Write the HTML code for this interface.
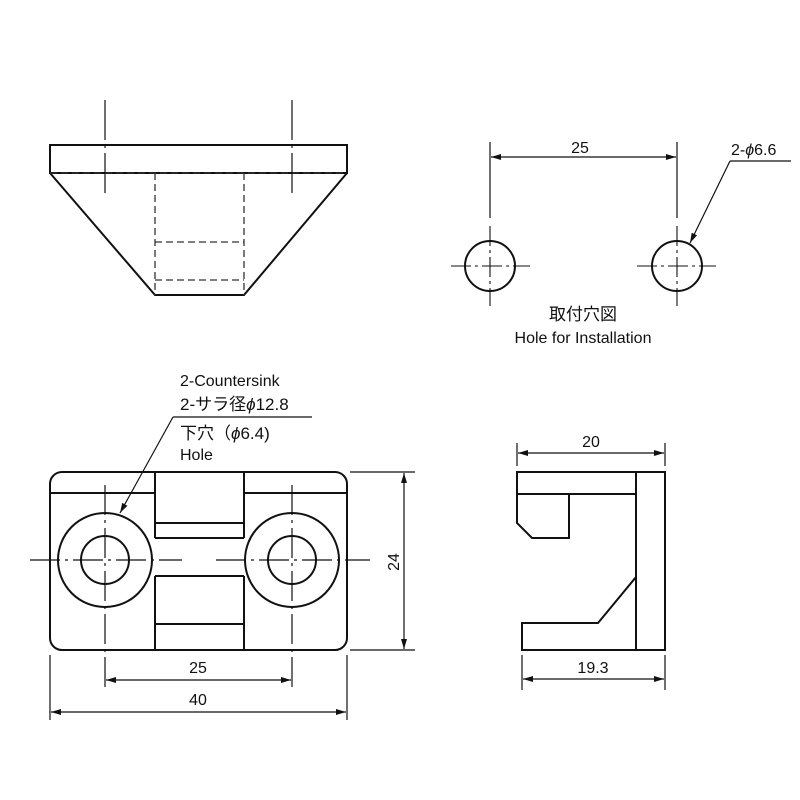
<!DOCTYPE html>
<html><head><meta charset="utf-8"><style>body{margin:0;background:#fff}svg{display:block}text{font-family:"Liberation Sans","Noto Sans CJK JP",sans-serif;fill:#111}</style></head>
<body>
<svg width="800" height="800" viewBox="0 0 800 800" xmlns="http://www.w3.org/2000/svg">
<defs><marker id="a" viewBox="0 0 10 6" refX="10" refY="3" markerWidth="10" markerHeight="6" orient="auto-start-reverse" markerUnits="userSpaceOnUse"><path d="M0,0L10,3L0,6z" fill="#111"/></marker></defs>
<g fill="none" stroke="#111" stroke-width="2">
<rect x="50" y="145" width="297" height="28"/>
<polyline points="50,173 155,295 244,295 347,173"/>
</g>
<g fill="none" stroke="#333" stroke-width="1.3" stroke-dasharray="7,4">
<line x1="50" y1="173" x2="347" y2="173"/>
<line x1="155" y1="173" x2="155" y2="295"/><line x1="244" y1="173" x2="244" y2="295"/>
<line x1="155" y1="242" x2="244" y2="242"/><line x1="155" y1="280" x2="244" y2="280"/>
</g>
<g fill="none" stroke="#111" stroke-width="1.2" stroke-dasharray="40,5,3,5">
<line x1="105" y1="100" x2="105" y2="198"/><line x1="292" y1="100" x2="292" y2="198"/>
</g>
<g fill="none" stroke="#111" stroke-width="2">
<rect x="50" y="472" width="297" height="178" rx="12"/>
<line x1="50" y1="493" x2="155" y2="493"/><line x1="244" y1="493" x2="347" y2="493"/>
<line x1="155" y1="472" x2="155" y2="538"/><line x1="244" y1="472" x2="244" y2="538"/>
<line x1="155" y1="576" x2="155" y2="650"/><line x1="244" y1="576" x2="244" y2="650"/>
<line x1="155" y1="523" x2="244" y2="523"/><line x1="155" y1="538" x2="244" y2="538"/>
<line x1="155" y1="576" x2="244" y2="576"/><line x1="155" y1="624" x2="244" y2="624"/>
<circle cx="105" cy="560" r="47"/><circle cx="105" cy="560" r="24"/>
<circle cx="292" cy="560" r="47"/><circle cx="292" cy="560" r="24"/>
</g>
<g fill="none" stroke="#111" stroke-width="1.2" stroke-dasharray="30,5,3,5">
<line x1="30" y1="560" x2="182" y2="560"/><line x1="216" y1="560" x2="370" y2="560"/>
<line x1="105" y1="485" x2="105" y2="690"/><line x1="292" y1="485" x2="292" y2="690"/>
</g>
<g fill="none" stroke="#111" stroke-width="1.2">
<line x1="50" y1="655" x2="50" y2="720"/><line x1="347" y1="655" x2="347" y2="720"/>
<line x1="106" y1="680" x2="291" y2="680" marker-start="url(#a)" marker-end="url(#a)"/>
<line x1="51" y1="712" x2="346" y2="712" marker-start="url(#a)" marker-end="url(#a)"/>
<line x1="350" y1="472" x2="415" y2="472"/><line x1="350" y1="650" x2="415" y2="650"/>
<line x1="404" y1="473" x2="404" y2="649" marker-start="url(#a)" marker-end="url(#a)"/>
<line x1="173" y1="417" x2="312" y2="417"/>
<line x1="173" y1="417" x2="120" y2="513" marker-end="url(#a)"/>
</g>
<text x="180" y="386" font-size="16">2-Countersink</text>
<text x="180" y="410" font-size="17">2-サラ径<tspan font-style="italic">ϕ</tspan>12.8</text>
<text x="180" y="439" font-size="17">下穴（<tspan font-style="italic">ϕ</tspan>6.4)</text>
<text x="180" y="460" font-size="16">Hole</text>
<text x="198" y="673" font-size="16" text-anchor="middle">25</text>
<text x="198" y="705" font-size="16" text-anchor="middle">40</text>
<text x="0" y="0" font-size="16" text-anchor="middle" transform="translate(399,562) rotate(-90)">24</text>
<g fill="none" stroke="#111" stroke-width="2">
<polyline points="636,472 517,472 517,523 532,538 569,538 569,494"/>
<line x1="517" y1="494" x2="636" y2="494"/>
<rect x="636" y="472" width="29" height="178"/>
<polyline points="636,577 598,623 522,623 522,650 636,650"/>
</g>
<g fill="none" stroke="#111" stroke-width="1.2">
<line x1="517" y1="443" x2="517" y2="466"/><line x1="665" y1="443" x2="665" y2="466"/>
<line x1="518" y1="453" x2="664" y2="453" marker-start="url(#a)" marker-end="url(#a)"/>
<line x1="522" y1="655" x2="522" y2="690"/><line x1="665" y1="655" x2="665" y2="690"/>
<line x1="523" y1="679" x2="664" y2="679" marker-start="url(#a)" marker-end="url(#a)"/>
</g>
<text x="591" y="447" font-size="16" text-anchor="middle">20</text>
<text x="593" y="673" font-size="16" text-anchor="middle">19.3</text>
<g fill="none" stroke="#111" stroke-width="2">
<circle cx="490" cy="266" r="25"/><circle cx="677" cy="266" r="25"/>
</g>
<g fill="none" stroke="#111" stroke-width="1.2">
<line x1="490" y1="142" x2="490" y2="218"/><line x1="677" y1="142" x2="677" y2="218"/>
<line x1="491" y1="157" x2="676" y2="157" marker-start="url(#a)" marker-end="url(#a)"/>
<line x1="730" y1="161" x2="791" y2="161"/>
<line x1="730" y1="161" x2="690" y2="243" marker-end="url(#a)"/>
</g>
<g fill="none" stroke="#111" stroke-width="1.1" stroke-dasharray="20,4,3,4">
<line x1="490" y1="226" x2="490" y2="306"/><line x1="451" y1="266" x2="530" y2="266"/>
<line x1="677" y1="226" x2="677" y2="306"/><line x1="637" y1="266" x2="716" y2="266"/>
</g>
<text x="580" y="153" font-size="16" text-anchor="middle">25</text>
<text x="731" y="155" font-size="16">2-<tspan font-style="italic">ϕ</tspan>6.6</text>
<text x="583" y="320" font-size="17" text-anchor="middle">取付穴図</text>
<text x="583" y="343" font-size="16" text-anchor="middle">Hole for Installation</text>
</svg>
</body></html>
